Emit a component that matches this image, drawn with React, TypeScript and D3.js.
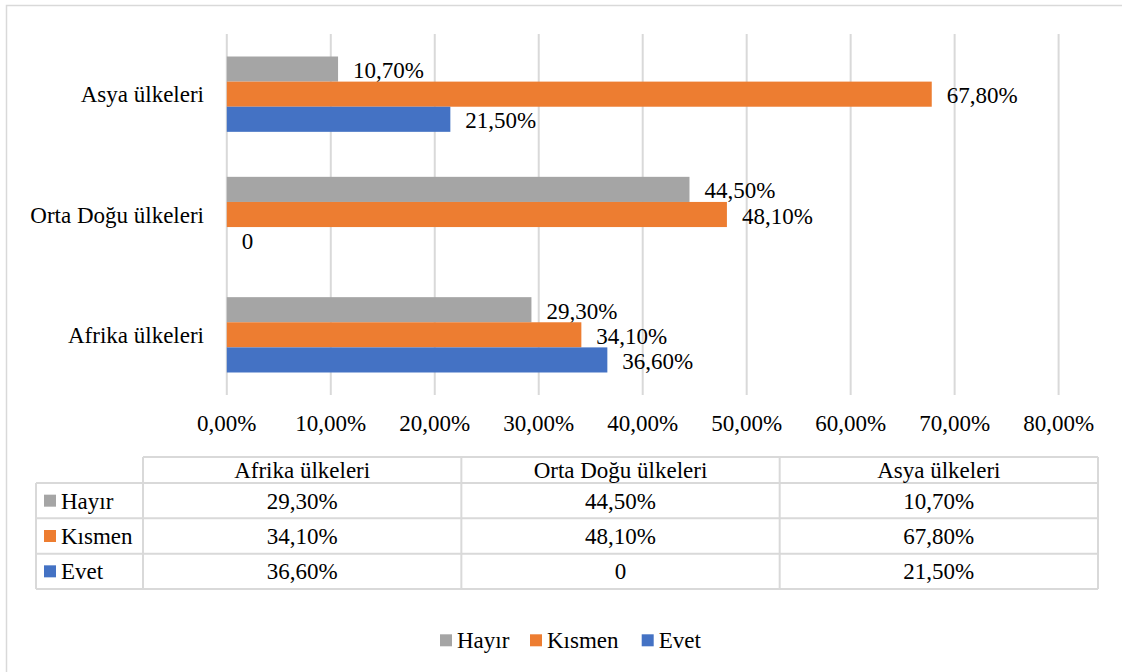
import React from "react";
import * as d3 from "d3";

const categories = ["Afrika ülkeleri", "Orta Doğu ülkeleri", "Asya ülkeleri"];
const seriesNames = ["Hayır", "Kısmen", "Evet"];
const hayir = [29.3, 44.5, 10.7];
const kismen = [34.1, 48.1, 67.8];
const evet = [36.6, 0, 21.5];
const seriesValues = [hayir, kismen, evet];
const seriesColors = ["#A5A5A5", "#ED7D31", "#4472C4"];
const xTicks = [0, 10, 20, 30, 40, 50, 60, 70, 80];

const W = 1122;
const H = 672;
const FONT = "Times New Roman, Liberation Serif, Tinos, DejaVu Serif, serif";
const FS = 23;
const GRID = "#D9D9D9";

const fmtVal = (v: number) => (v === 0 ? "0" : d3.format(".2f")(v).replace(".", ",") + "%");
const fmtTick = (v: number) => d3.format(".2f")(v).replace(".", ",") + "%";

export default function App() {
  const x = d3.scaleLinear().domain([0, 80]).range([226.8, 1058.6]);
  const y = d3
    .scaleBand<string>()
    .domain([...categories].reverse())
    .range([34, 395])
    .paddingInner(0.374)
    .paddingOuter(0.187);
  const inner = d3.scaleBand<string>().domain(seriesNames).range([0, y.bandwidth()]);

  // table
  const tTop = 457, tHead = 483, tBottom = 589, tLeft = 36, tColStart = 143, tRight = 1098;
  const cols = d3.scaleBand<string>().domain(categories).range([tColStart, tRight]);
  const rows = d3.scaleBand<string>().domain(seriesNames).range([tHead, tBottom]);

  const legendX = [440, 530, 641.7];

  return (
    <svg
      width={W}
      height={H}
      style={{ position: "absolute", left: 0, top: 0, display: "block", background: "#fff", fontFamily: FONT, fontSize: FS }}
    >
      <rect x={0} y={0} width={W} height={H} fill="#fff" />
      <rect x={6.5} y={5.5} width={1130} height={700} fill="none" stroke={GRID} strokeWidth={1.5} />

      {/* gridlines */}
      {xTicks.map((t) => (
        <line key={"g" + t} x1={x(t)} x2={x(t)} y1={34} y2={395} stroke={GRID} strokeWidth={2} />
      ))}

      {/* bars */}
      {categories.map((c, ci) =>
        seriesNames.map((s, si) => {
          const v = seriesValues[si][ci];
          const y0 = (y(c) as number) + (inner(s) as number);
          const bh = inner.bandwidth();
          return (
            <g key={c + s}>
              {v > 0 && (
                <rect x={x(0)} y={y0} width={x(v) - x(0)} height={bh} fill={seriesColors[si]} />
              )}
              <text x={x(v) + 15} y={y0 + bh / 2 + 9} fill="#000">
                {fmtVal(v)}
              </text>
            </g>
          );
        })
      )}

      {/* category labels */}
      {categories.map((c) => (
        <text key={"c" + c} x={204} y={(y(c) as number) + y.bandwidth() / 2 + 8} textAnchor="end" fill="#000">
          {c}
        </text>
      ))}

      {/* tick labels */}
      {xTicks.map((t) => (
        <text key={"t" + t} x={x(t)} y={431} textAnchor="middle" fill="#000">
          {fmtTick(t)}
        </text>
      ))}

      {/* data table */}
      <g stroke={GRID} strokeWidth={2} fill="none">
        <line x1={tColStart} x2={tRight} y1={tTop} y2={tTop} />
        {seriesNames.map((s) => (
          <line key={"rl" + s} x1={tLeft} x2={tRight} y1={rows(s) as number} y2={rows(s) as number} />
        ))}
        <line x1={tLeft} x2={tRight} y1={tBottom} y2={tBottom} />
        <line x1={tLeft} x2={tLeft} y1={tHead} y2={tBottom} />
        {categories.map((c) => (
          <line key={"cl" + c} x1={cols(c) as number} x2={cols(c) as number} y1={tTop} y2={tBottom} />
        ))}
        <line x1={tRight} x2={tRight} y1={tTop} y2={tBottom} />
      </g>
      {categories.map((c) => (
        <text
          key={"h" + c}
          x={(cols(c) as number) + cols.bandwidth() / 2}
          y={(tTop + tHead) / 2 + 8}
          textAnchor="middle"
          fill="#000"
        >
          {c}
        </text>
      ))}
      {seriesNames.map((s, si) => {
        const ry = (rows(s) as number) + rows.bandwidth() / 2;
        return (
          <g key={"row" + s}>
            <rect x={44} y={ry - 6} width={12} height={12} fill={seriesColors[si]} />
            <text x={61} y={ry + 8} fill="#000">
              {s}
            </text>
            {categories.map((c, ci) => (
              <text
                key={"v" + s + c}
                x={(cols(c) as number) + cols.bandwidth() / 2}
                y={ry + 8}
                textAnchor="middle"
                fill="#000"
              >
                {fmtVal(seriesValues[si][ci])}
              </text>
            ))}
          </g>
        );
      })}

      {/* legend */}
      {seriesNames.map((s, si) => (
        <g key={"lg" + s}>
          <rect x={legendX[si]} y={634.3} width={12} height={12} fill={seriesColors[si]} />
          <text x={legendX[si] + 17} y={648} fill="#000">
            {s}
          </text>
        </g>
      ))}
    </svg>
  );
}
